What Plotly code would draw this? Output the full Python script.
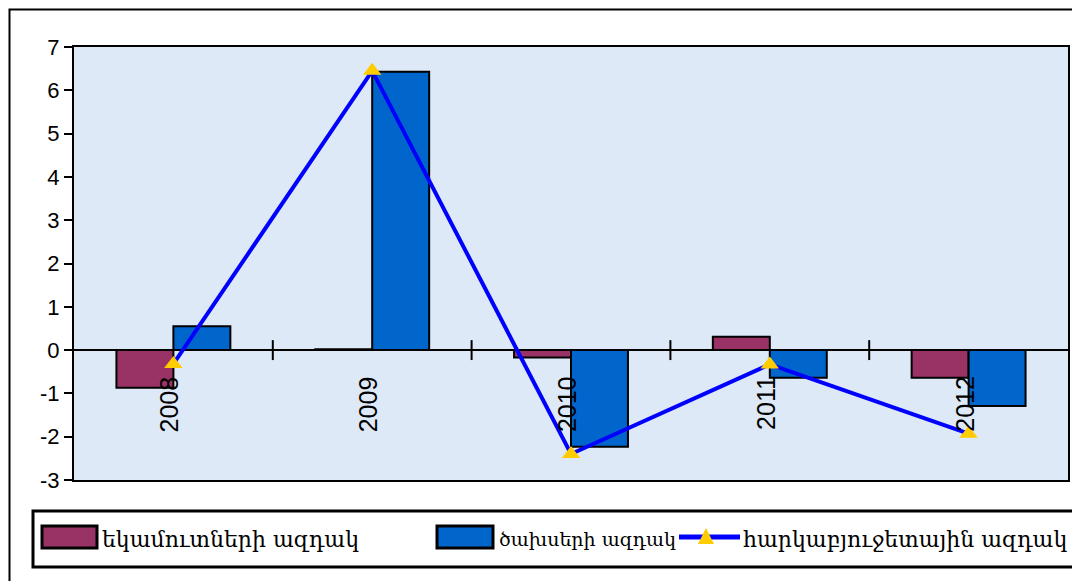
import plotly.graph_objects as go

years = ["2008", "2009", "2010", "2011", "2012"]
revenue = [-0.87, 0.02, -0.17, 0.31, -0.64]
expense = [0.55, 6.43, -2.23, -0.64, -1.29]
fiscal = [-0.32, 6.45, -2.40, -0.33, -1.93]
names = ["եկամուտների ազդակ", "ծախսերի ազդակ", "հարկաբյուջետային ազդակ"]
yticks = list(range(-3, 8))
ytick_text = [str(v) for v in yticks]

colors = ["#993366", "#0066CC"]
line_color = "#0000FF"
marker_color = "#FFCC00"

xpos = list(range(len(years)))

# plot area in page pixels (for paper-coordinate helpers)
PL, PR, PT, PB = 74, 1068, 47, 480
def px(x):
    return (x - PL) / (PR - PL)
def py(y):
    return (PB - y) / (PB - PT)

fig = go.Figure()
fig.add_trace(go.Bar(x=xpos, y=revenue, name=names[0],
                     marker=dict(color=colors[0], line=dict(color="black", width=2))))
fig.add_trace(go.Bar(x=xpos, y=expense, name=names[1],
                     marker=dict(color=colors[1], line=dict(color="black", width=2))))
fig.add_trace(go.Scatter(x=xpos, y=fiscal, name=names[2], mode="lines+markers",
                         line=dict(color=line_color, width=4),
                         marker=dict(symbol="triangle-up", size=16, color=marker_color,
                                     line=dict(width=0))))

# category labels rotated along the zero line
for i, yr in enumerate(years):
    fig.add_annotation(x=i, y=0, xref="x", yref="y", text=yr, showarrow=False,
                       textangle=-90, xanchor="center", yanchor="top", yshift=-24, xshift=-4,
                       font=dict(family="Liberation Sans, Arial", size=25, color="black"))

shapes = []
# category separator ticks on zero line
for i in range(len(years) - 1):
    shapes.append(dict(type="line", xref="x", yref="y", x0=i + 0.5, x1=i + 0.5,
                       y0=-0.23, y1=0.23, line=dict(color="black", width=2)))
# outer chart frame
shapes.append(dict(type="rect", xref="paper", yref="paper", x0=px(9.5), x1=px(1100),
                   y0=py(600), y1=py(9.5), line=dict(color="black", width=2)))

# legend (custom, boxed)
shapes.append(dict(type="rect", xref="paper", yref="paper", x0=px(33), x1=px(1100),
                   y0=py(567), y1=py(511), line=dict(color="black", width=3),
                   fillcolor="white"))
leg_boxes = [(42, 97), (437, 493)]
for (a, b), c in zip(leg_boxes, colors):
    shapes.append(dict(type="rect", xref="paper", yref="paper", x0=px(a), x1=px(b),
                       y0=py(548), y1=py(526), line=dict(color="black", width=3),
                       fillcolor=c))
shapes.append(dict(type="line", xref="paper", yref="paper", x0=px(679), x1=px(740),
                   y0=py(537), y1=py(537), line=dict(color=line_color, width=5)))
tx, ty = 706, 537
shapes.append(dict(type="path", xref="paper", yref="paper",
                   path=f"M {px(tx-8)} {py(ty+7)} L {px(tx+8)} {py(ty+7)} L {px(tx)} {py(ty-9)} Z",
                   fillcolor=marker_color, line=dict(width=0)))
for x0, name, fs in zip([100, 497, 741], names, [22, 19, 22]):
    fig.add_annotation(x=px(x0), y=py(539), xref="paper", yref="paper", text=name,
                       showarrow=False, xanchor="left", yanchor="middle",
                       font=dict(family="DejaVu Serif", size=fs, color="black"))

fig.update_layout(
    width=1080, height=581,
    margin=dict(l=66, r=20, t=39, b=109),
    paper_bgcolor="white",
    plot_bgcolor="#dde9f6",
    barmode="group", bargap=0.427, bargroupgap=0,
    showlegend=False,
    shapes=shapes,
    xaxis=dict(range=[-0.5, 4.5], showticklabels=False, ticks="", showgrid=False,
               zeroline=False, showline=True, linecolor="black", linewidth=2, mirror=True),
    yaxis=dict(range=[-3, 7], tickvals=yticks, ticktext=ytick_text, ticks="outside",
               ticklen=8, tickwidth=2,
               tickcolor="black", showgrid=False, zeroline=True, zerolinecolor="black",
               zerolinewidth=2, showline=True, linecolor="black", linewidth=2, mirror=True,
               tickfont=dict(family="Liberation Sans, Arial", size=22, color="black")),
)

fig.write_html("out.html")
